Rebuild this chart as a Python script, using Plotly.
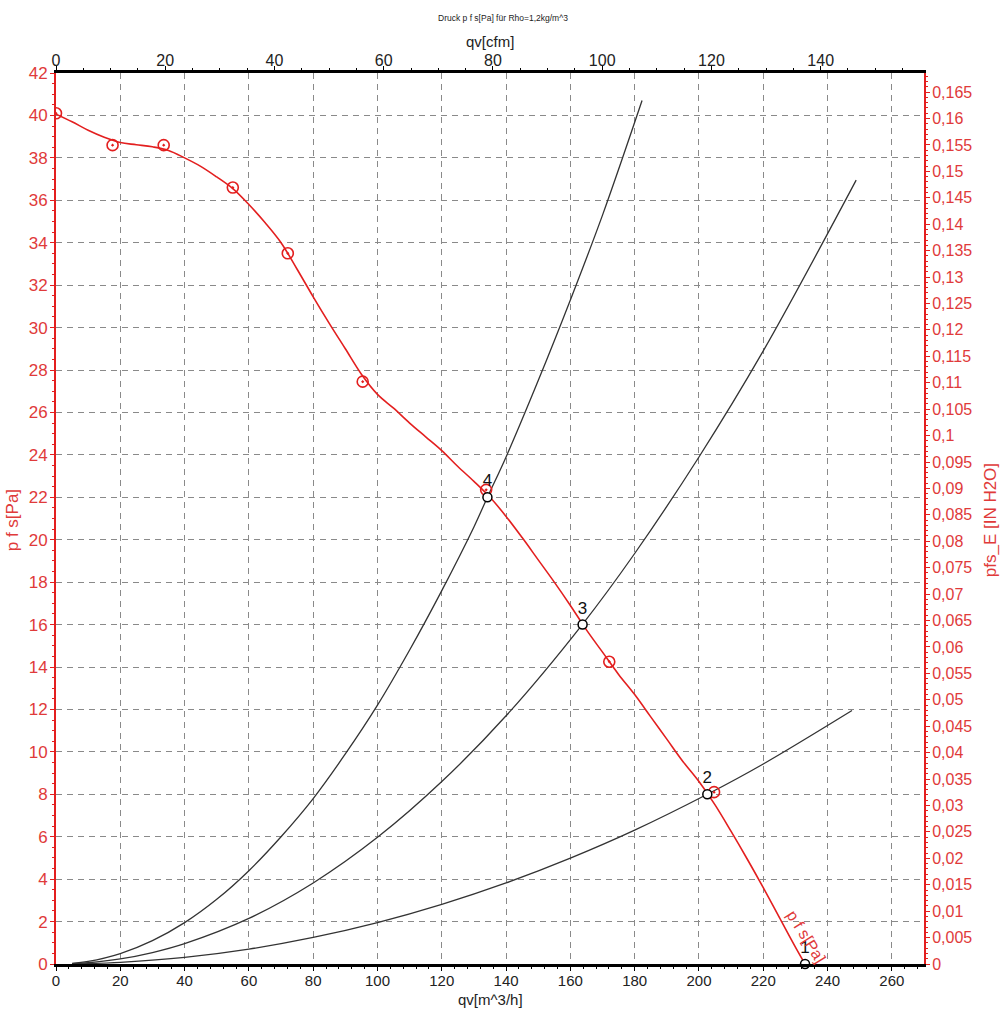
import plotly.graph_objects as go

# ---------------- data ----------------
# fan curve p_fs [Pa] vs qv [m^3/h]
q_fs = [0, 5, 10, 15, 20, 25, 30, 35, 40, 45, 50, 55, 60, 65, 70, 75, 80, 85, 90, 95,
        100, 105, 110, 115, 120, 125, 130, 135, 140, 145, 150, 155, 160, 165, 170, 175,
        180, 185, 190, 195, 200, 205, 210, 215, 220, 225, 230, 233]
p_fs = [40.06, 39.7, 39.3, 38.97, 38.72, 38.62, 38.52, 38.35, 38.0, 37.6, 37.1, 36.55, 35.8, 34.95, 34.0, 32.75, 31.45, 30.2, 29.0, 27.8,
        26.85, 26.2, 25.5, 24.85, 24.2, 23.45, 22.75, 22.0, 21.1, 20.1, 19.05, 18.0, 16.9, 15.75, 14.7, 13.65,
        12.7, 11.65, 10.6, 9.55, 8.6, 7.5, 6.25, 4.95, 3.6, 2.2, 0.8, 0.0]

# measured points on the fan curve
q_meas = [0, 17.6, 33.5, 55.0, 72.1, 95.4, 133.8, 172.1, 204.7]
p_meas = [40.1, 38.6, 38.6, 36.6, 33.5, 27.45, 22.35, 14.25, 8.1]

# system curves
q_sys4 = [5, 10, 20, 30, 40, 50, 60, 70, 80, 90, 100, 110, 120, 130, 134.2, 140, 150, 160, 170, 182.3]
p_sys4 = [0.03, 0.12, 0.49, 1.1, 1.95, 3.05, 4.4, 6.0, 7.8, 9.9, 12.2, 14.8, 17.6, 20.6, 22.0, 23.9, 27.5, 31.3, 35.3, 40.7]

q_sys3 = [5, 10, 20, 30, 40, 60, 80, 100, 120, 140, 163.7, 180, 200, 220, 248.9]
p_sys3 = [0.015, 0.06, 0.24, 0.54, 0.96, 2.15, 3.82, 5.97, 8.6, 11.7, 16.0, 19.35, 23.9, 28.9, 36.95]

q_sys2 = [5, 10, 20, 40, 60, 80, 100, 120, 140, 160, 180, 202.6, 220, 247.6]
p_sys2 = [0.005, 0.02, 0.08, 0.31, 0.70, 1.25, 1.95, 2.81, 3.82, 4.99, 6.31, 8.0, 9.43, 11.95]

# operating points
q_op = [233.0, 202.6, 163.8, 134.2]
p_op = [0.0, 8.0, 16.0, 22.0]
op_labels = ["1", "2", "3", "4"]

# axes
M3H_PER_CFM = 1.69901
PA_PER_INH2O = 249.089
x_max = 270
y_max = 42
inh2o_ticks = [round(i * 0.005, 3) for i in range(34)]
inh2o_text = [("%.3f" % v).rstrip("0").rstrip(".").replace(".", ",") for v in inh2o_ticks]

RED = "#e31f1f"
RED_TXT = "#e03a3a"
GRID = "#8a8a8a"
FONT = "Liberation Sans, Arial, sans-serif"

fig = go.Figure()

for qs, ps in ((q_sys4, p_sys4), (q_sys3, p_sys3), (q_sys2, p_sys2)):
    fig.add_trace(go.Scatter(x=qs, y=ps, mode="lines", line=dict(color="#333333", width=1.3, shape="spline"),
                             hoverinfo="skip", showlegend=False))
fig.add_trace(go.Scatter(x=q_fs, y=p_fs, mode="lines", line=dict(color=RED, width=1.6, shape="spline", smoothing=1),
                         hoverinfo="skip", showlegend=False))
fig.add_trace(go.Scatter(x=q_meas, y=p_meas, mode="markers",
                         marker=dict(symbol="circle-open-dot", size=11, color=RED, line=dict(width=1.6, color=RED)),
                         showlegend=False))
fig.add_trace(go.Scatter(x=q_op, y=p_op, mode="markers+text", text=op_labels, textposition="top center",
                         textfont=dict(family=FONT, size=17, color="#111111"),
                         marker=dict(symbol="circle", size=9, color="white", line=dict(width=1.5, color="black")),
                         showlegend=False, cliponaxis=False))
# dummy trace to attach the secondary axes
fig.add_trace(go.Scatter(x=[0], y=[0], xaxis="x2", yaxis="y2", mode="markers", marker=dict(opacity=0),
                         hoverinfo="skip", showlegend=False))

fig.update_layout(
    width=1003, height=1024,
    margin=dict(l=56, r=79, t=73, b=60),
    paper_bgcolor="white", plot_bgcolor="white",
    font=dict(family=FONT, size=15, color="#222222"),
    xaxis=dict(range=[0, x_max], tick0=0, dtick=20, showgrid=True, gridcolor=GRID, griddash="6px,5px", gridwidth=1,
               showline=True, linecolor="black", linewidth=3, ticks="outside", ticklen=4, tickcolor="black",
               tickfont=dict(size=15, color="#222222"), zeroline=False, ticklabelstandoff=-3,
               minor=dict(dtick=4, ticks="outside", ticklen=2, tickcolor="black", showgrid=False)),
    xaxis2=dict(overlaying="x", side="top", anchor="y", range=[0, x_max / M3H_PER_CFM], tick0=0, dtick=20,
                showgrid=False, showline=True, linecolor="black", linewidth=3, ticks="outside", ticklen=4,
                tickcolor="black", tickfont=dict(size=16, color="#222222"), zeroline=False, ticklabelstandoff=-6,
                minor=dict(dtick=5, ticks="outside", ticklen=2, tickcolor="black", showgrid=False)),
    yaxis=dict(range=[0, y_max], tick0=0, dtick=2, showgrid=True, gridcolor=GRID, griddash="6px,5px", gridwidth=1,
               showline=True, linecolor=RED, linewidth=2, ticks="outside", ticklen=4, tickcolor=RED,
               tickfont=dict(size=17, color=RED_TXT), zeroline=False, ticklabelstandoff=-1,
               minor=dict(dtick=0.5, ticks="outside", ticklen=2, tickcolor=RED, showgrid=False)),
    yaxis2=dict(overlaying="y", side="right", anchor="x", range=[0, y_max / PA_PER_INH2O],
                tickmode="array", tickvals=inh2o_ticks, ticktext=inh2o_text,
                showgrid=False, showline=True, linecolor=RED, linewidth=2, ticks="outside", ticklen=4,
                tickcolor=RED, tickfont=dict(size=16, color=RED_TXT), zeroline=False, ticklabelstandoff=-1,
                minor=dict(dtick=0.001, ticks="outside", ticklen=2, tickcolor=RED, showgrid=False)),
    annotations=[
        dict(text="Druck p f s[Pa] für Rho=1,2kg/m^3", xref="paper", yref="paper", x=0.515, y=1.0617,
             showarrow=False, font=dict(family="Liberation Sans Narrow, Arial Narrow, Liberation Sans", size=8.5,
                                        color="#222222"), xanchor="center", yanchor="middle"),
        dict(text="qv[cfm]", xref="paper", yref="paper", x=0.5, y=1.0348, showarrow=False,
             font=dict(size=15, color="#222222"), xanchor="center", yanchor="middle"),
        dict(text="qv[m^3/h]", xref="paper", yref="paper", x=0.501, y=-0.0393, showarrow=False,
             font=dict(size=15, color="#222222"), xanchor="center", yanchor="middle"),
        dict(text="p f s[Pa]", xref="paper", yref="paper", x=-0.0507, y=0.498, showarrow=False, textangle=-90,
             font=dict(size=17, color=RED_TXT), xanchor="center", yanchor="middle"),
        dict(text="pfs_E [IN H2O]", xref="paper", yref="paper", x=1.076, y=0.498, showarrow=False, textangle=-90,
             font=dict(size=17, color=RED_TXT), xanchor="center", yanchor="middle"),
        dict(text="p f s[Pa]", xref="x", yref="y", x=233.3, y=1.3, showarrow=False, textangle=58,
             font=dict(size=16, color=RED_TXT), xanchor="center", yanchor="middle"),
    ],
)

fig.write_html("out.html")
